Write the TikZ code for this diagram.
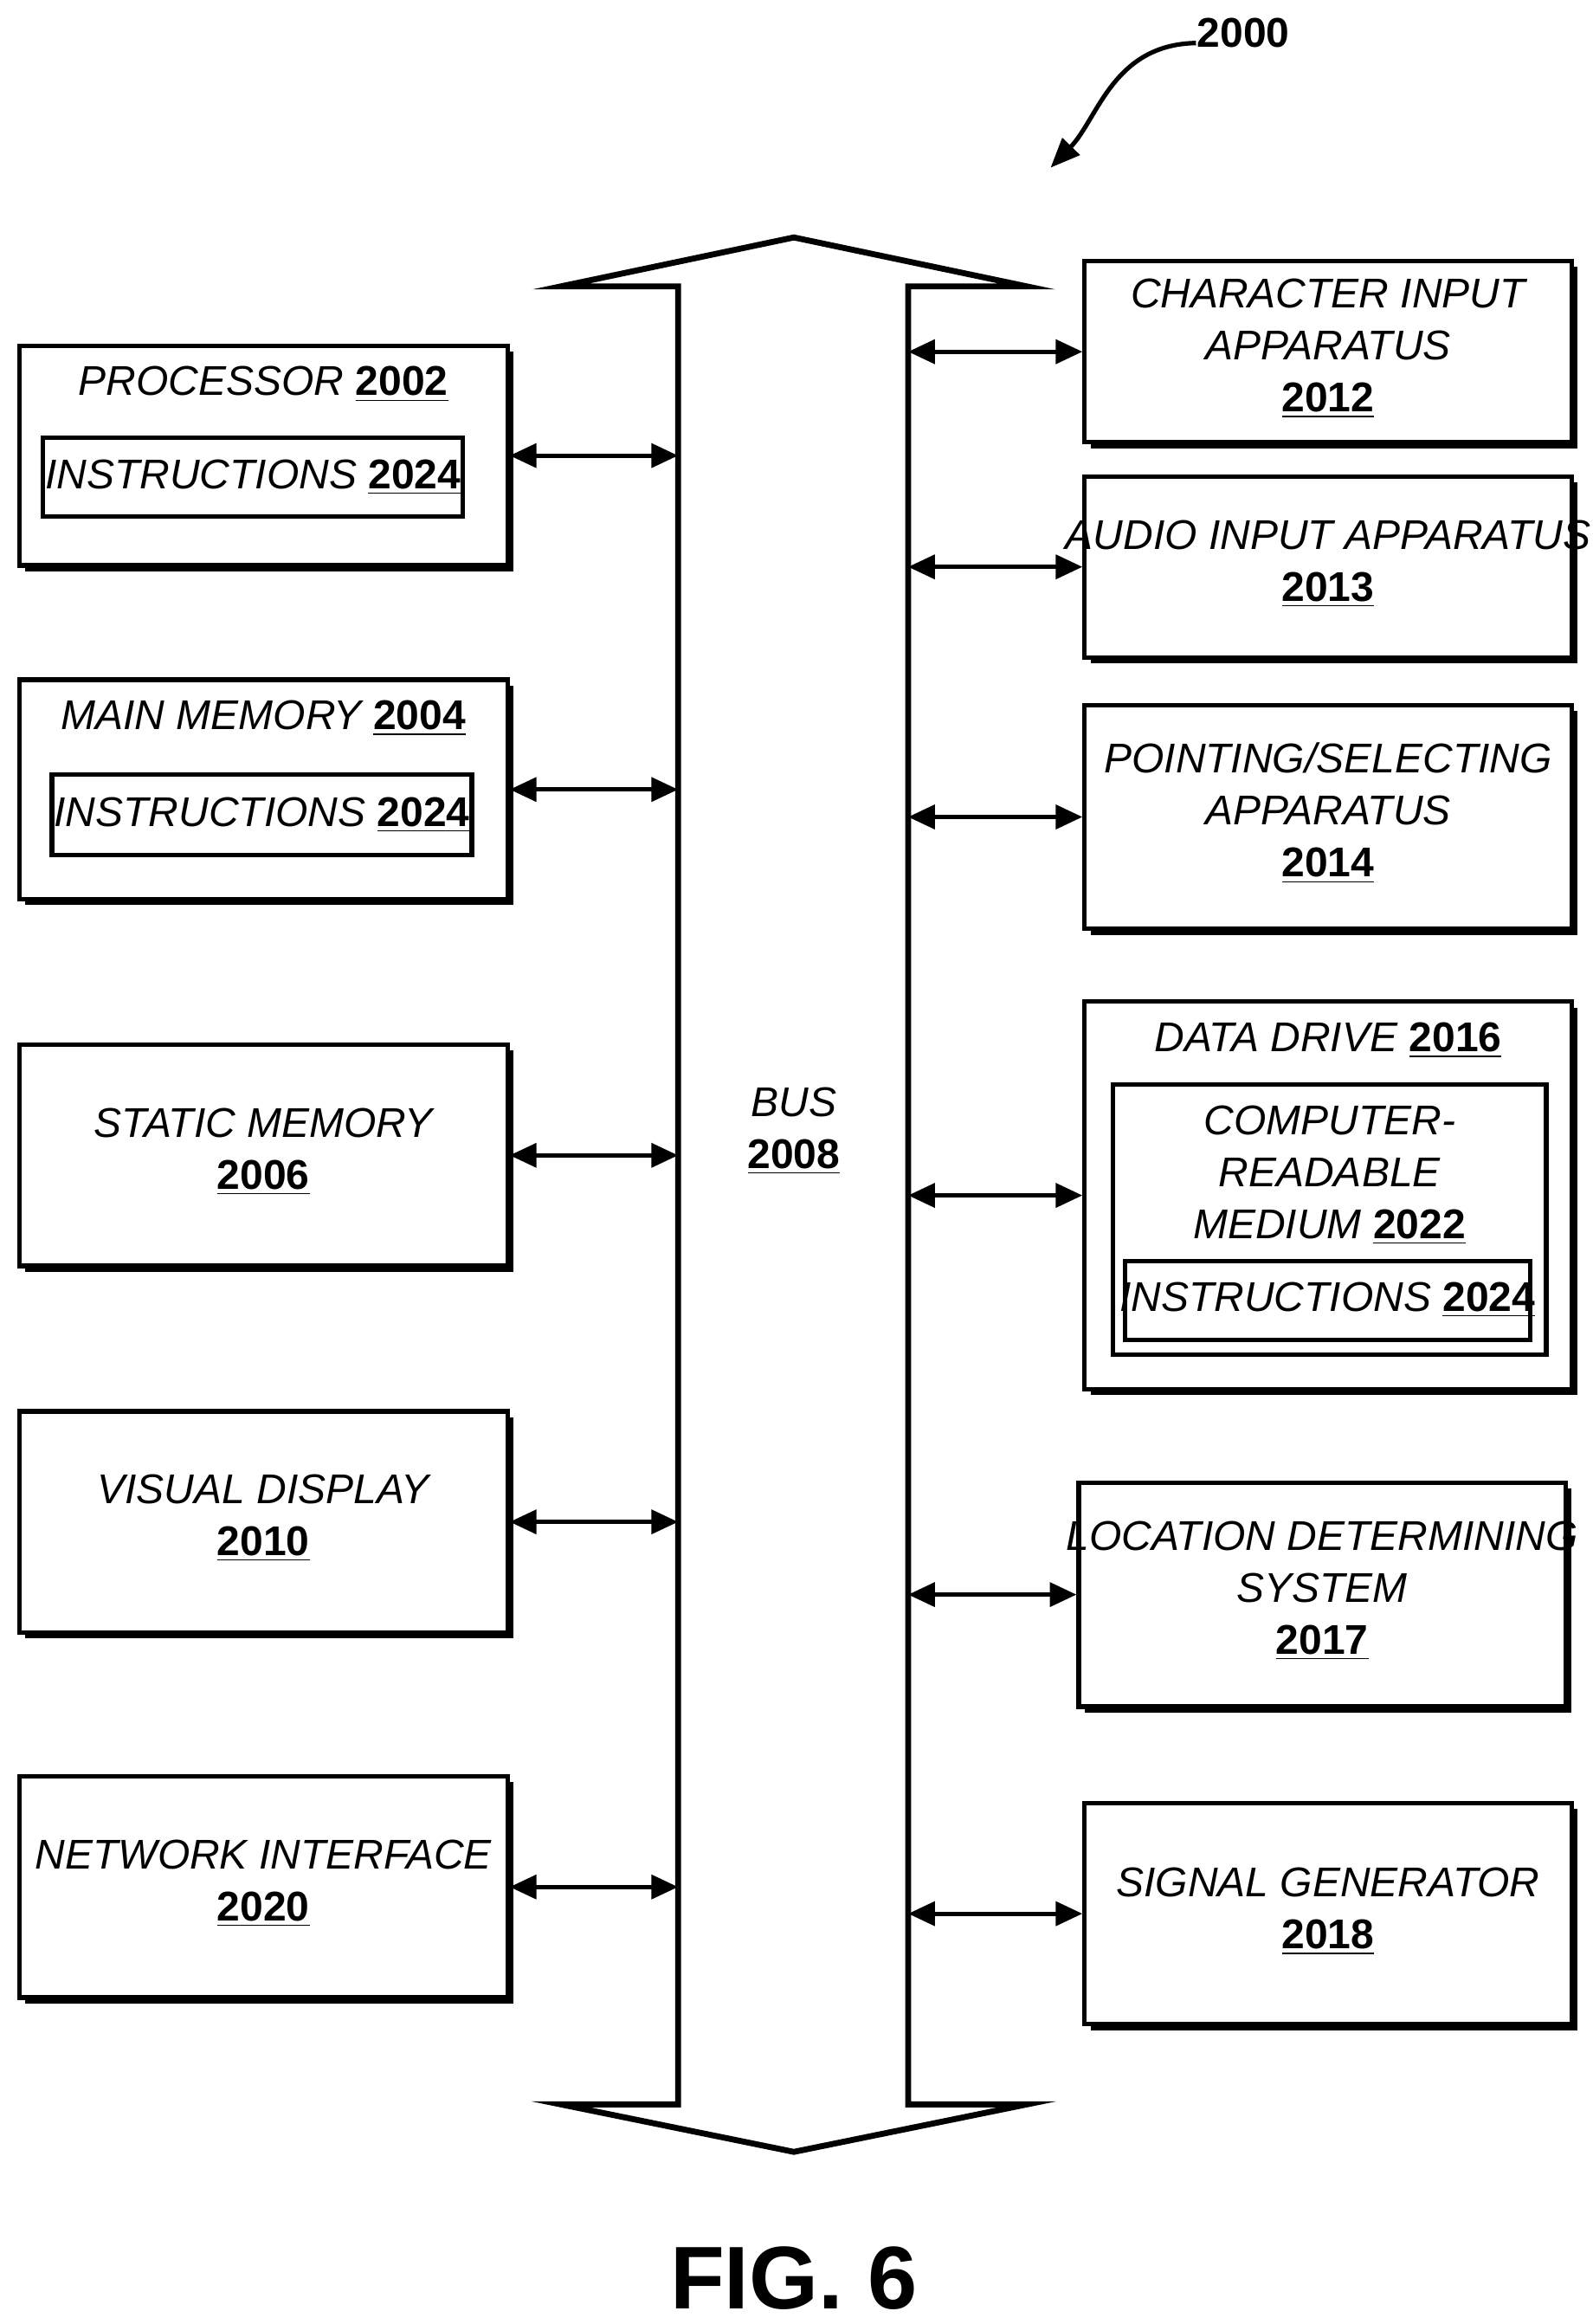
\documentclass[tikz,border=0pt]{standalone}
\usepackage{fontspec}
\setmainfont{Liberation Sans}
\usetikzlibrary{arrows.meta,shadows}
\newcommand\num[1]{\underline{\textbf{\upshape #1}}}
\begin{document}
\begin{tikzpicture}[x=0.5pt,y=-0.5pt,
  box/.style={draw,line width=1.5pt,fill=white,drop shadow={shadow xshift=2pt,shadow yshift=-2pt,fill=black,opacity=1}},
  ibox/.style={draw,line width=1.5pt,fill=white},
  txt/.style={font=\fontsize{14}{17.5}\selectfont\itshape,align=center,inner sep=0pt},
  conn/.style={line width=1.5pt,{Triangle[length=9pt,width=8pt]}-{Triangle[length=9pt,width=8pt]}}]
\useasboundingbox (0,0) rectangle (1073,1566);
% bus
\coordinate (bl) at (457,0); \coordinate (br) at (612,0);
\draw[line width=2pt,line join=miter] (457,1418) -- (457,193) -- (378,193) -- (535,160) -- (692,193) -- (612,193) -- (612,1418) -- (692,1418) -- (535,1450) -- (378,1418) -- cycle;
\node[txt] (bus) at (535,762) {BUS\\\num{2008}};
% left boxes
\node[box,minimum width=164.5pt,minimum height=74pt] (p) at (177.5,307) {};
\node[txt] at (177.5,259) {PROCESSOR \num{2002}};
\node[ibox,minimum width=141.5pt,minimum height=26.5pt] (pi) at (170.5,321.5) {};
\node[txt] at (170.5,321.5) {INSTRUCTIONS \num{2024}};
\node[box,minimum width=164.5pt,minimum height=74pt] (m) at (177.5,532) {};
\node[txt] at (177.5,484) {MAIN MEMORY \num{2004}};
\node[ibox,minimum width=141.5pt,minimum height=27pt] (mi) at (176.5,549) {};
\node[txt] at (176.5,549) {INSTRUCTIONS \num{2024}};
\node[box,minimum width=164.5pt,minimum height=74.5pt] (s) at (177.5,778.5) {};
\node[txt] at (177.5,776) {STATIC MEMORY\\\num{2006}};
\node[box,minimum width=164.5pt,minimum height=74.5pt] (v) at (177.5,1025.5) {};
\node[txt] at (177.5,1023) {VISUAL DISPLAY\\\num{2010}};
\node[box,minimum width=164.5pt,minimum height=74.5pt] (n) at (177.5,1271.5) {};
\node[txt] at (177.5,1269) {NETWORK INTERFACE\\\num{2020}};
% right boxes
\node[box,minimum width=164pt,minimum height=61pt] (c) at (895,237) {};
\node[txt] at (895,235) {CHARACTER INPUT\\APPARATUS\\\num{2012}};
\node[box,minimum width=164pt,minimum height=61pt] (a) at (895,382) {};
\node[txt] at (895,380) {AUDIO INPUT APPARATUS\\\num{2013}};
\node[box,minimum width=164pt,minimum height=75.5pt] (pt) at (895,550.5) {};
\node[txt] at (895,548) {POINTING/SELECTING\\APPARATUS\\\num{2014}};
\node[box,minimum width=164pt,minimum height=130.5pt] (d) at (895,805.5) {};
\node[txt] at (895,701) {DATA DRIVE \num{2016}};
\node[ibox,minimum width=146pt,minimum height=91pt] (dm) at (896,822) {};
\node[txt] at (896,792) {COMPUTER-\\READABLE\\MEDIUM \num{2022}};
\node[ibox,minimum width=136.5pt,minimum height=26.5pt] (di) at (894.5,876.5) {};
\node[txt] at (894.5,876) {INSTRUCTIONS \num{2024}};
\node[box,minimum width=164pt,minimum height=75.5pt] (l) at (891,1074.5) {};
\node[txt] at (891,1072) {LOCATION DETERMINING\\SYSTEM\\\num{2017}};
\node[box,minimum width=164pt,minimum height=74.5pt] (g) at (895,1289.5) {};
\node[txt] at (895,1288) {SIGNAL GENERATOR\\\num{2018}};
% connectors
\draw[conn] (p.east) -- (p.east -| bl);
\draw[conn] (m.east) -- (m.east -| bl);
\draw[conn] (s.east) -- (s.east -| bl);
\draw[conn] (v.east) -- (v.east -| bl);
\draw[conn] (n.east) -- (n.east -| bl);
\draw[conn] (c.west -| br) -- (c.west);
\draw[conn] (a.west -| br) -- (a.west);
\draw[conn] (pt.west -| br) -- (pt.west);
\draw[conn] (d.west -| br) -- (d.west);
\draw[conn] (l.west -| br) -- (l.west);
\draw[conn] (g.west -| br) -- (g.west);
% reference
\node[font=\fontsize{14}{17}\selectfont\bfseries] (ref) at (838,22) {2000};
\coordinate (rt) at (708,113);
\draw[line width=1.5pt,-{Triangle[length=10pt,width=8pt]}] (806,29) .. controls (750,30) and (740,80) .. (rt);
\node[font=\fontsize{30}{34}\selectfont\bfseries] (fig) at (535,1535) {FIG. 6};
\end{tikzpicture}
\end{document}
